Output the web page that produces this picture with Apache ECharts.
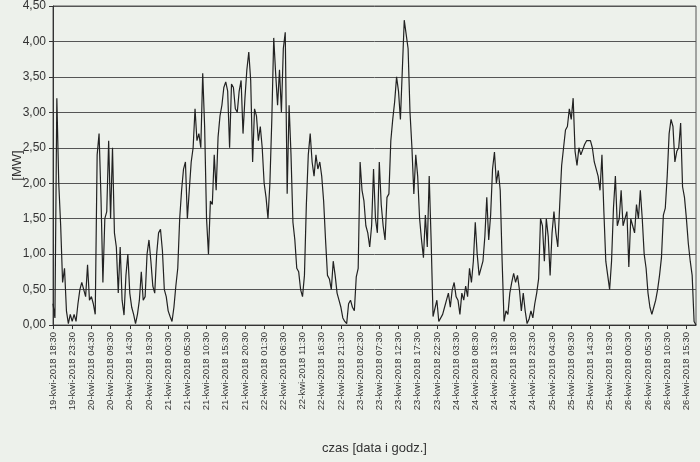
<!DOCTYPE html>
<html>
<head>
<meta charset="utf-8">
<script src="https://cdn.jsdelivr.net/npm/echarts@6/dist/echarts.min.js"></script>
<style>
  html, body { margin: 0; padding: 0; background: #edf1eb; }
  #chart { width: 700px; height: 462px; }
</style>
</head>
<body>
<div id="chart"></div>
<script>
// moc [MW], próbki co 30 min od 19-kwi-2018 18:30
const power = [
  0.30, 0.10, 3.20, 2.00, 1.40, 0.60, 0.80, 0.20, 0.02, 0.15,
  0.05, 0.15, 0.05, 0.30, 0.50, 0.60, 0.60, 0.40, 0.85, 0.35,
  0.40, 0.30, 0.15, 2.40, 2.70, 1.80, 0.60, 1.50, 1.60, 2.60,
  1.50, 2.50, 1.30, 1.10, 0.45, 1.10, 0.35, 0.14, 0.70, 1.00,
  0.45, 0.25, 0.15, 0.02, 0.15, 0.35, 0.75, 0.35, 0.40, 1.00,
  1.20, 0.90, 0.55, 0.45, 1.00, 1.30, 1.35, 1.05, 0.50, 0.40,
  0.20, 0.12, 0.05, 0.25, 0.55, 0.80, 1.50, 1.90, 2.20, 2.30,
  1.50, 1.90, 2.30, 2.50, 3.05, 2.60, 2.70, 2.50, 3.55, 2.80,
  1.50, 1.00, 1.75, 1.70, 2.40, 1.90, 2.65, 2.95, 3.10, 3.35,
  3.43, 3.30, 2.50, 3.40, 3.35, 3.05, 3.00, 3.30, 3.45, 2.70,
  3.20, 3.60, 3.85, 3.45, 2.30, 3.05, 2.95, 2.60, 2.80, 2.50,
  2.00, 1.80, 1.50, 2.00, 2.90, 4.05, 3.55, 3.10, 3.60, 3.00,
  3.90, 4.13, 1.85, 3.10, 2.40, 1.45, 1.20, 0.80, 0.75, 0.50,
  0.40, 0.70, 1.70, 2.40, 2.70, 2.30, 2.10, 2.40, 2.20, 2.30,
  2.10, 1.75, 1.20, 0.70, 0.65, 0.50, 0.90, 0.70, 0.45, 0.35,
  0.25, 0.10, 0.05, 0.02, 0.30, 0.35, 0.25, 0.20, 0.68, 0.80,
  2.30, 1.90, 1.75, 1.40, 1.30, 1.10, 1.40, 2.20, 1.50, 1.30,
  2.30, 1.70, 1.40, 1.20, 1.80, 1.85, 2.60, 2.90, 3.15, 3.50,
  3.30, 2.90, 3.60, 4.30, 4.30, 3.90, 3.00, 2.50, 1.85, 2.40,
  2.10, 1.50, 1.20, 0.95, 1.55, 1.10, 2.10, 1.20, 0.12, 0.10,
  0.35, 0.05, 0.05, 0.15, 0.25, 0.35, 0.45, 0.25, 0.50, 0.60,
  0.40, 0.35, 0.15, 0.45, 0.35, 0.55, 0.40, 0.80, 0.60, 0.90,
  1.45, 1.00, 0.70, 0.70, 0.90, 1.25, 1.80, 1.20, 1.55, 2.20,
  2.44, 2.00, 2.18, 1.90, 0.90, 0.05, 0.20, 0.15, 0.45, 0.60,
  0.73, 0.60, 0.70, 0.50, 0.20, 0.45, 0.20, 0.02, 0.08, 0.20,
  0.10, 0.30, 0.45, 0.65, 1.50, 1.40, 0.90, 1.50, 1.25, 0.70,
  1.30, 1.60, 1.30, 1.10, 1.70, 2.25, 2.50, 2.75, 2.80, 3.05,
  2.90, 3.20, 2.45, 2.25, 2.50, 2.40, 2.40, 2.55, 2.60, 2.60,
  2.60, 2.50, 2.30, 2.30, 2.10, 1.90, 2.40, 1.60, 0.90, 0.70,
  0.50, 0.90, 1.65, 2.10, 1.40, 1.50, 1.90, 1.40, 1.50, 1.60,
  0.82, 1.50, 1.40, 1.30, 1.70, 1.50, 1.90, 1.50, 1.00, 0.80,
  0.45, 0.25, 0.15, 0.25, 0.35, 0.50, 0.70, 0.95, 1.55, 1.65,
  2.10, 2.70, 2.90, 2.80, 2.30, 2.45, 2.50, 2.85, 1.95, 1.80,
  1.50, 1.15, 0.90, 0.70, 0.05, 0.00
];

const startDay = 19;
const startMinutes = 18 * 60 + 30;
const stepMinutes = 30;
const labelEvery = 10; // co 5 godzin

function pad(n) { return String(n).padStart(2, "0"); }

const categories = power.map((_, i) => {
  const m = startMinutes + i * stepMinutes;
  const day = startDay + Math.floor(m / 1440);
  const mm = m % 1440;
  return day + "-kwi-2018 " + pad(Math.floor(mm / 60)) + ":" + pad(mm % 60);
});

const chart = echarts.init(document.getElementById("chart"), null, { renderer: "canvas" });
const font = "Liberation Sans";

chart.setOption({
  backgroundColor: "#edf1eb",
  animation: false,
  grid: {
    left: 53, right: 4, top: 6, bottom: 137,
    outerBoundsMode: "none",
    show: true, borderColor: "#555", borderWidth: 1, backgroundColor: "transparent"
  },
  xAxis: {
    type: "category",
    data: categories,
    boundaryGap: false,
    name: "czas [data i godz.]",
    nameLocation: "middle",
    nameGap: 117,
    nameMoveOverlap: false,
    nameTextStyle: { fontFamily: font, fontSize: 13, color: "#333" },
    axisLine: { lineStyle: { color: "#333" } },
    axisTick: { interval: labelEvery - 1, length: 4, lineStyle: { color: "#333" } },
    axisLabel: {
      interval: labelEvery - 1, rotate: 90, margin: 7,
      fontFamily: font, fontSize: 9.5, color: "#333"
    },
    splitLine: { show: false }
  },
  yAxis: {
    type: "value",
    min: 0, max: 4.5, interval: 0.5,
    name: "[MW]",
    nameLocation: "middle",
    nameGap: 29,
    nameRotate: 90,
    nameMoveOverlap: false,
    nameTextStyle: { fontFamily: font, fontSize: 13, color: "#333" },
    axisLine: { show: true, lineStyle: { color: "#333" } },
    axisTick: { show: true, length: 4, lineStyle: { color: "#333" } },
    axisLabel: {
      margin: 7, fontFamily: font, fontSize: 12, color: "#333",
      formatter: v => v.toFixed(2).replace(".", ",")
    },
    splitLine: { lineStyle: { color: "#555", width: 1 } }
  },
  series: [{
    type: "line",
    data: power,
    showSymbol: false,
    lineStyle: { color: "#222", width: 1.2 }
  }]
});
</script>
</body>
</html>
